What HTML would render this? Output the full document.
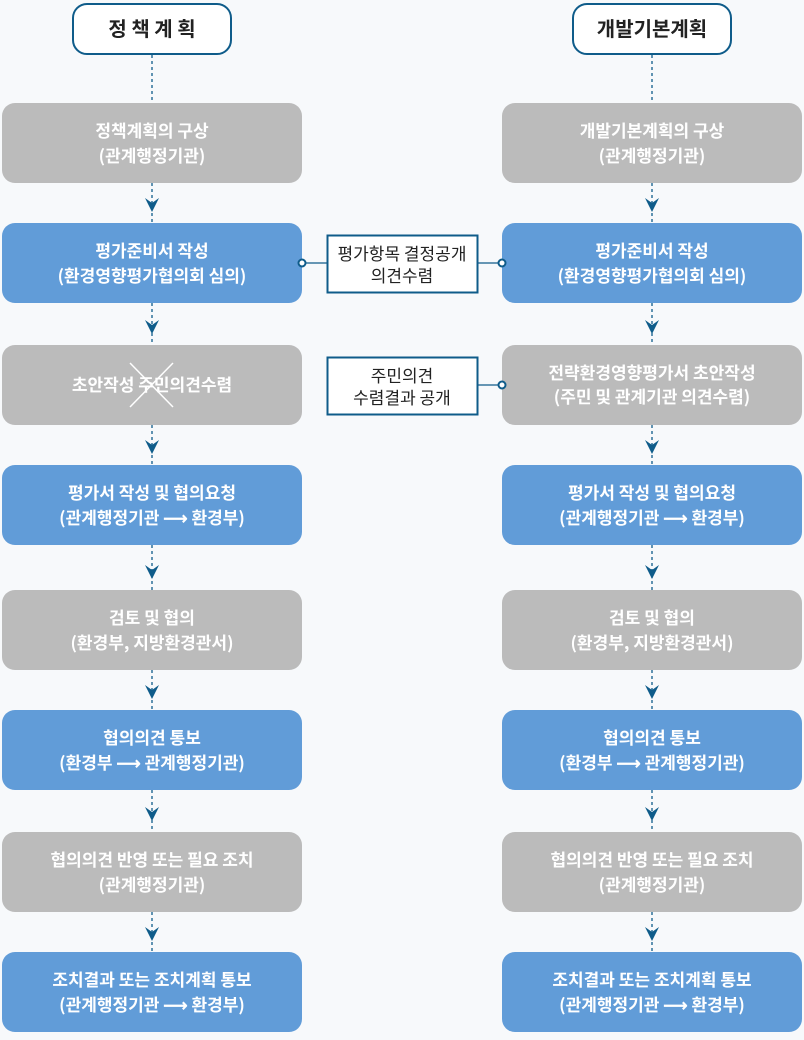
<!DOCTYPE html>
<html><head><meta charset="utf-8"><style>
html,body{margin:0;padding:0;background:#f7f9fb;}
svg{display:block;font-family:"Noto Sans CJK KR","Liberation Sans",sans-serif;}
.w{fill:#fff;font-size:17px;font-weight:bold;text-anchor:middle;}
.k{fill:#222;font-size:17px;text-anchor:middle;}
</style></head><body>
<svg width="804" height="1040" viewBox="0 0 804 1040">
<rect width="804" height="1040" fill="#f7f9fb"/>
<defs>
<g id="ar"><path d="M-7,-14 L0,-9 L7,-14 L0,0 Z" fill="#0f5c8a"/></g>
</defs>
<rect x="73" y="4" width="158" height="50" rx="14" fill="#fff" stroke="#0f5c8a" stroke-width="2"/>
<text x="152" y="36" class="k" style="font-size:20px;font-weight:bold">정 책 계 획</text>
<rect x="573" y="4" width="158" height="50" rx="14" fill="#fff" stroke="#0f5c8a" stroke-width="2"/>
<text x="652" y="36" class="k" style="font-size:20px;font-weight:bold">개발기본계획</text>
<g stroke="#0f5c8a" stroke-width="1.3" stroke-dasharray="3,3">
<line x1="152" y1="55" x2="152" y2="103"/><line x1="652" y1="55" x2="652" y2="103"/>
<line x1="152" y1="183" x2="152" y2="223"/><line x1="652" y1="183" x2="652" y2="223"/>
<line x1="152" y1="303" x2="152" y2="345"/><line x1="652" y1="303" x2="652" y2="345"/>
<line x1="152" y1="425" x2="152" y2="465"/><line x1="652" y1="425" x2="652" y2="465"/>
<line x1="152" y1="545" x2="152" y2="590"/><line x1="652" y1="545" x2="652" y2="590"/>
<line x1="152" y1="670" x2="152" y2="710"/><line x1="652" y1="670" x2="652" y2="710"/>
<line x1="152" y1="790" x2="152" y2="832"/><line x1="652" y1="790" x2="652" y2="832"/>
<line x1="152" y1="912" x2="152" y2="952"/><line x1="652" y1="912" x2="652" y2="952"/>
</g>
<g>
<use href="#ar" x="152" y="212"/><use href="#ar" x="652" y="212"/>
<use href="#ar" x="152" y="334"/><use href="#ar" x="652" y="334"/>
<use href="#ar" x="152" y="454"/><use href="#ar" x="652" y="454"/>
<use href="#ar" x="152" y="579"/><use href="#ar" x="652" y="579"/>
<use href="#ar" x="152" y="699"/><use href="#ar" x="652" y="699"/>
<use href="#ar" x="152" y="821"/><use href="#ar" x="652" y="821"/>
<use href="#ar" x="152" y="941"/><use href="#ar" x="652" y="941"/>
</g>
<g>
<rect x="2" y="103" width="300" height="80" rx="13" fill="#bbbbbb"/>
<rect x="502" y="103" width="300" height="80" rx="13" fill="#bbbbbb"/>
<rect x="2" y="223" width="300" height="80" rx="13" fill="#619cd8"/>
<rect x="502" y="223" width="300" height="80" rx="13" fill="#619cd8"/>
<rect x="2" y="345" width="300" height="80" rx="13" fill="#bbbbbb"/>
<rect x="502" y="345" width="300" height="80" rx="13" fill="#bbbbbb"/>
<rect x="2" y="465" width="300" height="80" rx="13" fill="#619cd8"/>
<rect x="502" y="465" width="300" height="80" rx="13" fill="#619cd8"/>
<rect x="2" y="590" width="300" height="80" rx="13" fill="#bbbbbb"/>
<rect x="502" y="590" width="300" height="80" rx="13" fill="#bbbbbb"/>
<rect x="2" y="710" width="300" height="80" rx="13" fill="#619cd8"/>
<rect x="502" y="710" width="300" height="80" rx="13" fill="#619cd8"/>
<rect x="2" y="832" width="300" height="80" rx="13" fill="#bbbbbb"/>
<rect x="502" y="832" width="300" height="80" rx="13" fill="#bbbbbb"/>
<rect x="2" y="952" width="300" height="80" rx="13" fill="#619cd8"/>
<rect x="502" y="952" width="300" height="80" rx="13" fill="#619cd8"/>
</g>
<rect x="327.5" y="235.5" width="150" height="57" fill="#fff" stroke="#0f5c8a" stroke-width="2"/>
<text x="402" y="260" class="k">평가항목 결정공개</text>
<text x="402" y="282" class="k">의견수렴</text>
<rect x="327.5" y="357.5" width="150" height="57" fill="#fff" stroke="#0f5c8a" stroke-width="2"/>
<text x="402" y="382" class="k">주민의견</text>
<text x="402" y="404" class="k">수렴결과 공개</text>
<g stroke="#0f5c8a" stroke-width="1.3">
<line x1="306" y1="263" x2="327" y2="263"/><line x1="478" y1="263" x2="498" y2="263"/>
<line x1="478" y1="385" x2="498" y2="385"/>
</g>
<g fill="#fff" stroke="#0f5c8a" stroke-width="2">
<circle cx="302" cy="263" r="3.5"/><circle cx="502" cy="263" r="3.5"/><circle cx="502" cy="385" r="3.5"/>
</g>
<text x="152" y="137" class="w">정책계획의 구상</text><text x="152" y="162" class="w">(관계행정기관)</text>
<text x="652" y="137" class="w">개발기본계획의 구상</text><text x="652" y="162" class="w">(관계행정기관)</text>
<text x="152" y="257" class="w">평가준비서 작성</text><text x="152" y="282" class="w">(환경영향평가협의회 심의)</text>
<text x="652" y="257" class="w">평가준비서 작성</text><text x="652" y="282" class="w">(환경영향평가협의회 심의)</text>
<text x="152" y="391" class="w">초안작성 주민의견수렴</text>
<g stroke="#fff" stroke-width="1.5"><line x1="130" y1="363" x2="173" y2="407"/><line x1="173" y1="363" x2="130" y2="407"/></g>
<text x="652" y="379" class="w">전략환경영향평가서 초안작성</text><text x="652" y="403" class="w">(주민 및 관계기관 의견수렴)</text>
<text x="152" y="499" class="w">평가서 작성 및 협의요청</text><text x="152" y="524" class="w">(관계행정기관 ⟶ 환경부)</text>
<text x="652" y="499" class="w">평가서 작성 및 협의요청</text><text x="652" y="524" class="w">(관계행정기관 ⟶ 환경부)</text>
<text x="152" y="624" class="w">검토 및 협의</text><text x="152" y="649" class="w">(환경부, 지방환경관서)</text>
<text x="652" y="624" class="w">검토 및 협의</text><text x="652" y="649" class="w">(환경부, 지방환경관서)</text>
<text x="152" y="744" class="w">협의의견 통보</text><text x="152" y="769" class="w">(환경부 ⟶ 관계행정기관)</text>
<text x="652" y="744" class="w">협의의견 통보</text><text x="652" y="769" class="w">(환경부 ⟶ 관계행정기관)</text>
<text x="152" y="866" class="w">협의의견 반영 또는 필요 조치</text><text x="152" y="891" class="w">(관계행정기관)</text>
<text x="652" y="866" class="w">협의의견 반영 또는 필요 조치</text><text x="652" y="891" class="w">(관계행정기관)</text>
<text x="152" y="986" class="w">조치결과 또는 조치계획 통보</text><text x="152" y="1011" class="w">(관계행정기관 ⟶ 환경부)</text>
<text x="652" y="986" class="w">조치결과 또는 조치계획 통보</text><text x="652" y="1011" class="w">(관계행정기관 ⟶ 환경부)</text>
</svg>
</body></html>
